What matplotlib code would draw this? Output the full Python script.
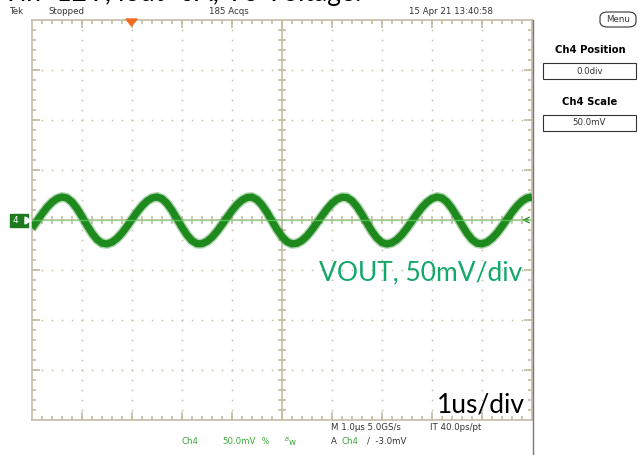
import matplotlib.pyplot as plt
from matplotlib.patches import FancyBboxPatch, Rectangle, Polygon
import numpy as np

# time axis in us (1 us/div), 0.1 us steps
t_us = [i / 10 for i in range(101)]
# VOUT ripple in mV (50 mV/div)
vout_mv = [
    -8.1, -1.0, 6.1, 12.6, 17.8, 21.4, 23.0, 22.0, 18.0, 11.5,
    3.4, -5.2, -13.2, -19.5, -23.2, -23.9, -22.2, -18.4, -13.0, -6.4,
    0.8, 7.8, 14.0, 18.9, 22.0, 23.0, 21.3, 16.6, 9.6, 1.2,
    -7.3, -15.0, -20.7, -23.7, -23.7, -21.4, -17.2, -11.4, -4.6, 2.5,
    9.4, 15.4, 19.9, 22.5, 22.9, 20.3, 15.0, 7.6, -0.9, -9.4,
    -16.6, -21.7, -23.9, -23.3, -20.5, -15.9, -9.8, -2.8, 4.3, 11.0,
    16.7, 20.7, 22.8, 22.5, 19.2, 13.3, 5.5, -3.1, -11.4, -18.1,
    -22.6, -24.0, -22.8, -19.5, -14.5, -8.1, -1.0, 6.1, 12.6, 17.8,
    21.4, 23.0, 22.0, 18.0, 11.5, 3.4, -5.2, -13.2, -19.5, -23.2,
    -23.9, -22.2, -18.4, -13.0, -6.4, 0.8, 7.8, 14.0, 18.9, 22.0, 23.0,
]
volts_per_div = 50.0

grat = '#c4bca4'
trace = '#1e8a1e'

fig = plt.figure(figsize=(6.38, 4.55), dpi=100)
W, H = 638, 455
ax = fig.add_axes([32 / W, 1 - 420 / H, 500 / W, 400 / H])
ax.set_xlim(0, 10)
ax.set_ylim(-4, 4)
ax.set_xticks([])
ax.set_yticks([])
for s in ax.spines.values():
    s.set_color(grat)
    s.set_linewidth(1.2)

# dotted graticule, a dot every 0.2 div
dots = np.arange(0.2, 10, 0.2)
for gx in range(1, 10):
    ys = np.arange(-3.8, 4, 0.2)
    ax.plot([gx] * len(ys), ys, ls='none', marker='s', ms=1.1, color=grat, mew=0)
for gy in [-3, -2, -1, 1, 2, 3]:
    ax.plot(dots, [gy] * len(dots), ls='none', marker='s', ms=1.1, color=grat, mew=0)

# centre cross with minor ticks
ax.axhline(0, color=grat, lw=1.2, zorder=1)
ax.axvline(5, color=grat, lw=1.2, zorder=1)
ax.vlines(np.arange(0.2, 10, 0.2), -0.08, 0.08, color=grat, lw=1.2, zorder=1)
ax.hlines(np.arange(-3.8, 4, 0.2), 4.92, 5.08, color=grat, lw=1.2, zorder=1)
# border ticks
ax.vlines(np.arange(0.2, 10, 0.2), 3.92, 4, color=grat, lw=1.2)
ax.vlines(np.arange(0.2, 10, 0.2), -4, -3.92, color=grat, lw=1.2)
ax.hlines(np.arange(-3.8, 4, 0.2), 0, 0.08, color=grat, lw=1.2)
ax.hlines(np.arange(-3.8, 4, 0.2), 9.92, 10, color=grat, lw=1.2)
ax.vlines(range(1, 10), 3.84, 4, color=grat, lw=1.2)
ax.vlines(range(1, 10), -4, -3.84, color=grat, lw=1.2)
ax.hlines(range(-3, 4), 0, 0.16, color=grat, lw=1.2)
ax.hlines(range(-3, 4), 9.84, 10, color=grat, lw=1.2)

v_div = [v / volts_per_div for v in vout_mv]
ax.plot(t_us, v_div, color=trace, lw=7.2, alpha=0.35, solid_capstyle='butt', zorder=3)
ax.plot(t_us, v_div, color=trace, lw=5.2, solid_capstyle='butt', zorder=3)
ax.axhline(0, color='#7be07b', lw=1.0, alpha=0.6, zorder=4)

ax.text(9.8, -1.05, 'VOUT, 50mV/div', color='#12a86a', fontsize=19,
        family='Lato', ha='right', va='center', zorder=5)
ax.text(9.85, -3.7, '1us/div', color='black', fontsize=19,
        family='Lato', ha='right', va='center', zorder=5)

# ground marker and right-side arrow
ax.annotate('', xy=(9.75, 0), xytext=(9.98, 0),
            arrowprops=dict(arrowstyle='->', color=trace, lw=0.9))
fig.patches.append(Rectangle((10 / W, 1 - 227 / H), 18 / W, 13 / H,
                             transform=fig.transFigure, color='#1e7a1e'))
fig.text(15 / W, 1 - 220.5 / H, '4', color='white', fontsize=6.5, ha='center', va='center')
fig.patches.append(Polygon([[25 / W, 1 - 217 / H], [25 / W, 1 - 224 / H], [31 / W, 1 - 220.5 / H]],
                           closed=True, transform=fig.transFigure, color='white'))
# trigger position marker
fig.patches.append(Polygon([[126 / W, 1 - 19 / H], [137 / W, 1 - 19 / H], [131.5 / W, 1 - 26 / H]],
                           closed=True, transform=fig.transFigure, color='#f26b1d'))

# right edge of scope screen
fig.add_artist(plt.Line2D([533 / W, 533 / W], [0, 1 - 20 / H], color='#777777', lw=1.0))

# cut-off caption at the very top
fig.text(2 / W, 1 - 1.5 / H, 'Vin=12V, Iout=0A, Vo Voltage:', fontsize=19,
         family='Lato', va='baseline', ha='left')

small = dict(fontsize=6.2, color='#333333', va='center')
fig.text(10 / W, 1 - 11 / H, 'Tek', **small)
fig.text(48 / W, 1 - 11 / H, 'Stopped', **small)
fig.text(209 / W, 1 - 11 / H, '185 Acqs', **small)
fig.text(409 / W, 1 - 11 / H, '15 Apr 21 13:40:58', **small)

fig.patches.append(FancyBboxPatch((600 / W, 1 - 27 / H), 36 / W, 15 / H,
                                  boxstyle='round,pad=0,rounding_size=0.012',
                                  transform=fig.transFigure, fc='white', ec='#333333', lw=0.8))
fig.text(618 / W, 1 - 19.5 / H, 'Menu', fontsize=6.2, ha='center', va='center', color='#333333')

fig.text(590 / W, 1 - 50 / H, 'Ch4 Position', fontsize=7.2, weight='bold', ha='center', va='center')
fig.patches.append(Rectangle((543 / W, 1 - 79 / H), 93 / W, 16 / H, transform=fig.transFigure,
                             fc='white', ec='#333333', lw=0.8))
fig.text(589.5 / W, 1 - 71 / H, '0.0div', fontsize=6.2, ha='center', va='center', color='#333333')
fig.text(590 / W, 1 - 102 / H, 'Ch4 Scale', fontsize=7.2, weight='bold', ha='center', va='center')
fig.patches.append(Rectangle((543 / W, 1 - 131 / H), 93 / W, 16 / H, transform=fig.transFigure,
                             fc='white', ec='#333333', lw=0.8))
fig.text(589.5 / W, 1 - 123 / H, '50.0mV', fontsize=6.2, ha='center', va='center', color='#333333')

green = '#3aa83a'
fig.text(181 / W, 1 - 442 / H, 'Ch4', fontsize=6.2, color=green, va='center')
fig.text(222 / W, 1 - 442 / H, '50.0mV', fontsize=6.2, color=green, va='center')
fig.text(262 / W, 1 - 442 / H, '%', fontsize=5.5, color=green, va='center')
fig.text(284 / W, 1 - 442 / H, '$^{B}$w', fontsize=6.2, color=green, va='center')
fig.text(331 / W, 1 - 428 / H, 'M 1.0\u03bcs 5.0GS/s', **small)
fig.text(430 / W, 1 - 428 / H, 'IT 40.0ps/pt', **small)
fig.text(331 / W, 1 - 441 / H, 'A', **small)
fig.text(342 / W, 1 - 441 / H, 'Ch4', fontsize=6.2, color=green, va='center')
fig.text(367 / W, 1 - 441 / H, '/  -3.0mV', **small)

fig.savefig('out.png', dpi=100)
